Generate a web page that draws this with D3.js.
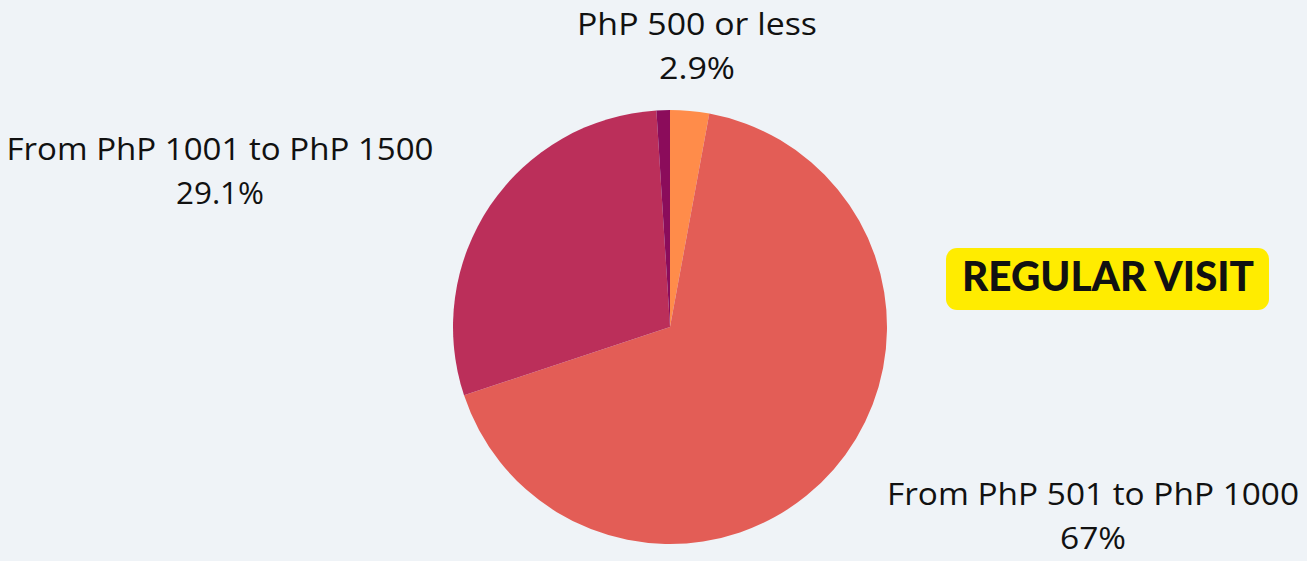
<!DOCTYPE html>
<html>
<head>
<meta charset="utf-8">
<script src="https://cdn.jsdelivr.net/npm/d3@7"></script>
<style>
  html, body { margin: 0; padding: 0; background: #EFF3F7; }
  #chart { width: 1307px; height: 561px; }
  text { font-family: "Open Sans", "Noto Sans", sans-serif; fill: #111; }
</style>
</head>
<body>
<div id="chart"></div>
<script>
//Datos
const categories = ['PhP 500 or less', 'From PhP 501 to PhP 1000', 'From PhP 1001 to PhP 1500', 'Other'];
const values = [2.9, 67, 29.1, 1.0];
const valueLabels = ['2.9%', '67%', '29.1%', ''];
const colors = ['#FF8C4A', '#E35D56', '#BB2F5A', '#8B0C5B'];
const title = 'REGULAR VISIT';

//Posiciones de etiquetas (centro x, línea base, anchos de texto)
const labelPos = [
    {x: 697, y: 35, w1: 240, w2: 76},
    {x: 1093, y: 505, w1: 412, w2: 66},
    {x: 220, y: 160, w1: 427, w2: 88},
    null
];

const width = 1307, height = 561;
const cx = 670, cy = 327, radius = 217;

let svg = d3.select('#chart')
    .append('svg')
        .attr('width', width)
        .attr('height', height);

svg.append('rect')
    .attr('width', width)
    .attr('height', height)
    .attr('fill', '#EFF3F7');

let data = categories.map(function(c, i) { return {cat: c, value: values[i], label: valueLabels[i], color: colors[i], pos: labelPos[i]}; });

let pie = d3.pie()
    .sort(null)
    .value(function(d) { return d.value; });

let arc = d3.arc()
    .innerRadius(0)
    .outerRadius(radius);

let g = svg.append('g')
    .attr('transform', 'translate(' + cx + ',' + cy + ')');

g.selectAll('path')
    .data(pie(data))
    .enter()
    .append('path')
    .attr('d', arc)
    .attr('fill', function(d) { return d.data.color; });

//Etiquetas
let labels = svg.append('g')
    .selectAll('g')
    .data(data.filter(function(d) { return d.pos; }))
    .enter()
    .append('g');

labels.append('text')
    .attr('x', function(d) { return d.pos.x; })
    .attr('y', function(d) { return d.pos.y; })
    .attr('text-anchor', 'middle')
    .attr('textLength', function(d) { return d.pos.w1; })
    .attr('lengthAdjust', 'spacingAndGlyphs')
    .style('font-size', '31px')
    .style('font-weight', 500)
    .text(function(d) { return d.cat; });

labels.append('text')
    .attr('x', function(d) { return d.pos.x; })
    .attr('y', function(d) { return d.pos.y + 44; })
    .attr('text-anchor', 'middle')
    .attr('textLength', function(d) { return d.pos.w2; })
    .attr('lengthAdjust', 'spacingAndGlyphs')
    .style('font-size', '31px')
    .style('font-weight', 500)
    .text(function(d) { return d.label; });

//Título
svg.append('rect')
    .attr('x', 946)
    .attr('y', 248)
    .attr('width', 323)
    .attr('height', 62)
    .attr('rx', 11)
    .attr('fill', '#FFEC00');

svg.append('text')
    .attr('x', 1108)
    .attr('y', 291)
    .attr('text-anchor', 'middle')
    .style('font-family', 'Lato, "DejaVu Sans", sans-serif')
    .style('font-size', '41px')
    .style('font-weight', 900)
    .attr('textLength', 292)
    .attr('lengthAdjust', 'spacingAndGlyphs')
    .text(title);
</script>
</body>
</html>
